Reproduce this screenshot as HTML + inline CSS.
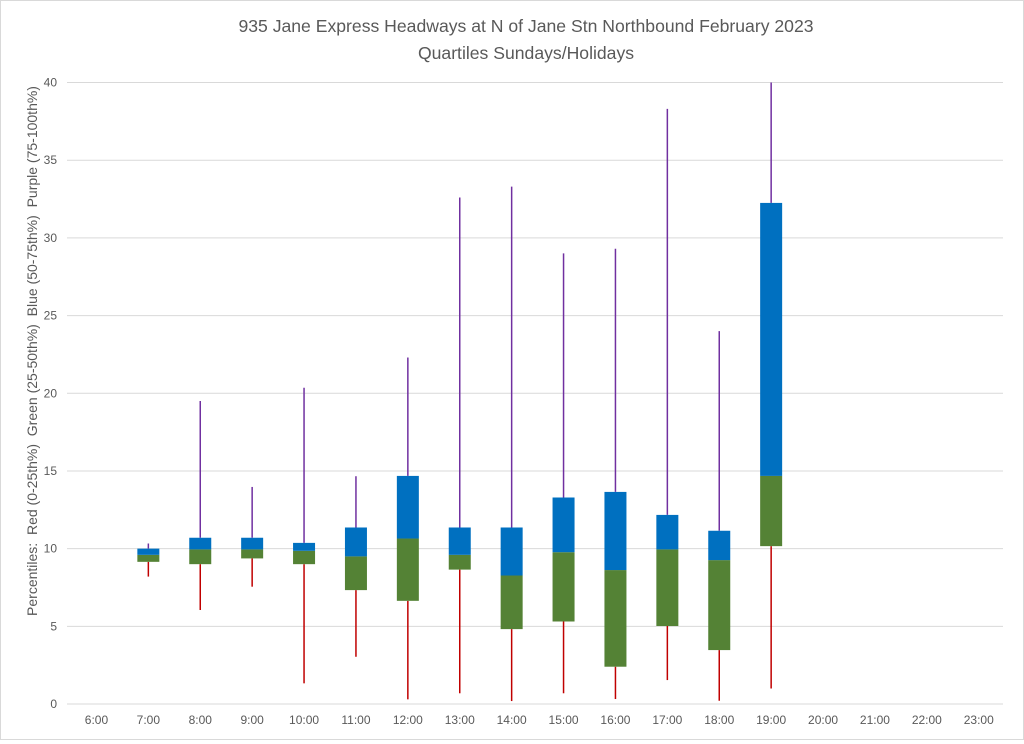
<!DOCTYPE html>
<html><head><meta charset="utf-8"><style>
body{margin:0;background:#fff;font-family:"Liberation Sans",Arial,sans-serif}
#wrap{position:relative;width:1024px;height:740px;border:1px solid #d9d9d9;box-sizing:border-box}
</style></head><body>
<div id="wrap">
<svg id="chart" width="1022" height="738" xmlns="http://www.w3.org/2000/svg">
<text x="525" y="31" text-anchor="middle" font-size="17.6" fill="#595959">935 Jane Express Headways at N of Jane Stn Northbound February 2023</text>
<text x="525" y="58" text-anchor="middle" font-size="17.6" fill="#595959">Quartiles Sundays/Holidays</text>
<text transform="translate(36,350) rotate(-90)" text-anchor="middle" font-size="14" fill="#595959" style="white-space:pre">Percentiles:  Red (0-25th%)  Green (25-50th%)  Blue (50-75th%)  Purple (75-100th%)</text>
<g id="grid"></g><g id="marks"></g><g id="labels"></g>
</svg>
</div>
<script>
const categories=["6:00","7:00","8:00","9:00","10:00","11:00","12:00","13:00","14:00","15:00","16:00","17:00","18:00","19:00","20:00","21:00","22:00","23:00"];
const minVals=[null,8.2,6.05,7.55,1.33,3.04,0.3,0.69,0.19,0.69,0.32,1.54,0.21,1.0,null,null,null,null];
const q1Vals=[null,9.15,9.0,9.37,9.0,7.33,6.64,8.65,4.82,5.31,2.4,5.02,3.47,10.16,null,null,null,null];
const medVals=[null,9.6,9.95,9.95,9.86,9.5,10.65,9.6,8.27,9.77,8.62,9.95,9.26,14.68,null,null,null,null];
const q3Vals=[null,10.0,10.7,10.7,10.37,11.36,14.68,11.36,11.36,13.29,13.65,12.17,11.15,32.25,null,null,null,null];
const maxVals=[null,10.33,19.5,13.97,20.35,14.66,22.3,32.6,33.3,29.0,29.3,38.3,24.0,40.0,null,null,null,null];
const yTicks=[0,5,10,15,20,25,30,35,40];
const NS="http://www.w3.org/2000/svg";
const L=66,R=1002,T=81.5,B=703,YMAX=40;
const band=51.9, x0=69.5;
function xs(i){return x0+(i+0.5)*band;}
function ys(v){return B-(v/YMAX)*(B-T);}
function mk(tag,attrs,parent){const e=document.createElementNS(NS,tag);for(const k in attrs)e.setAttribute(k,attrs[k]);document.getElementById(parent).appendChild(e);return e;}
yTicks.forEach(t=>{
  const g=mk('line',{x1:L,x2:R,y1:ys(t),y2:ys(t),stroke:'#d9d9d9','stroke-width':1},'grid');
  
  
  const lb=mk('text',{x:56,y:ys(t)+4,'text-anchor':'end','font-size':12,fill:'#595959'},'labels');
  lb.textContent=t;
  
  
});
categories.forEach((c,i)=>{
  const lb=mk('text',{x:xs(i),y:723,'text-anchor':'middle','font-size':12,fill:'#595959'},'labels');
  lb.textContent=c;
  
  
  if(minVals[i]==null)return;
  const cx=xs(i),w=22;
  const lo=mk('line',{x1:cx,x2:cx,y1:ys(minVals[i]),y2:ys(q1Vals[i]),stroke:'#C00000','stroke-width':1.5},'marks');
  
  
  const hi=mk('line',{x1:cx,x2:cx,y1:ys(maxVals[i]),y2:ys(q3Vals[i]),stroke:'#7030A0','stroke-width':1.5},'marks');
  
  
  const g=mk('rect',{x:cx-w/2,y:ys(medVals[i]),width:w,height:ys(q1Vals[i])-ys(medVals[i]),fill:'#548235'},'marks');
  
  
  const b=mk('rect',{x:cx-w/2,y:ys(q3Vals[i]),width:w,height:ys(medVals[i])-ys(q3Vals[i]),fill:'#0070C0'},'marks');
  
  
});
</script>
</body></html>
